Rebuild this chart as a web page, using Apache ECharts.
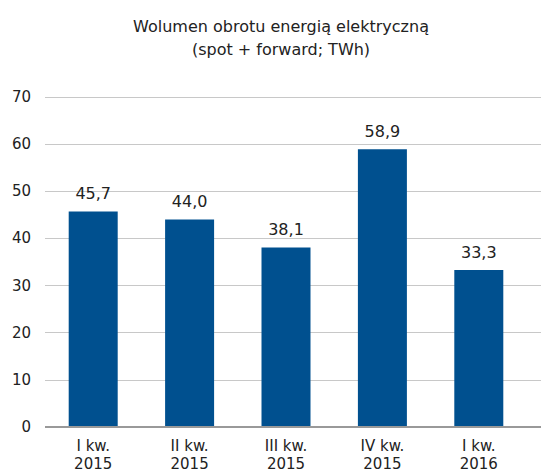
<!DOCTYPE html>
<html>
<head>
<meta charset="utf-8">
<script src="https://cdn.jsdelivr.net/npm/echarts@6/dist/echarts.min.js"></script>
<style>
  html, body { margin: 0; padding: 0; background: #fff; }
  #chart { width: 541px; height: 472px; }
</style>
</head>
<body>
<div id="chart"></div>
<script>
var categories = ["I kw.\n2015", "II kw.\n2015", "III kw.\n2015", "IV kw.\n2015", "I kw.\n2016"];
var volumes = [45.7, 44.0, 38.1, 58.9, 33.3];
var yTicks = [0, 10, 20, 30, 40, 50, 60, 70];

var fontFam = "DejaVu Sans";
// svg renderer: the canvas one ignored DejaVu here
var myChart = echarts.init(document.getElementById("chart"), null, { renderer: "svg" });

var option = {
  animation: false,
  textStyle: { fontFamily: fontFam },
  title: {
    text: "Wolumen obrotu energią elektryczną\n(spot + forward; TWh)",
    left: 276,
    top: 10,
    textAlign: "center",
    textStyle: {
      fontFamily: fontFam,
      fontSize: 16,
      fontWeight: "normal",
      color: "#222",
      lineHeight: 23
    }
  },
  // grid 0 only holds the gridlines (they run to the right edge), grid 1 the bars
  grid: [
    { left: 45, right: 0, top: 97, bottom: 45, outerBoundsMode: "none", containLabel: false },
    { left: 45, right: 14, top: 97, bottom: 45, outerBoundsMode: "none", containLabel: false }
  ],
  xAxis: [
    { gridIndex: 0, type: "value", show: false },
    {
      gridIndex: 1,
      type: "category",
      data: categories,
      axisLine: { show: false },
      axisTick: { show: false },
      axisLabel: {
        fontFamily: fontFam,
        fontSize: 15,
        color: "#222",
        lineHeight: 18,
        margin: 10
      }
    }
  ],
  yAxis: [
    {
      gridIndex: 0,
      type: "value",
      min: yTicks[0],
      max: yTicks[yTicks.length - 1],
      interval: 10,
      axisLine: { show: false },
      axisTick: { show: false },
      axisLabel: {
        fontFamily: fontFam,
        fontSize: 15,
        color: "#222",
        margin: 14
      },
      splitLine: { lineStyle: { color: "#c8c8c8", width: 1 } }
    },
    {
      gridIndex: 1,
      type: "value",
      min: yTicks[0],
      max: yTicks[yTicks.length - 1],
      interval: 10,
      show: false,
      splitLine: { show: false }
    }
  ],
  series: [
    {
      type: "bar",
      xAxisIndex: 1,
      yAxisIndex: 1,
      data: volumes,
      barWidth: 49,
      itemStyle: { color: "#00508f" },
      label: {
        show: true,
        position: "top",
        distance: 10,
        fontFamily: fontFam,
        fontSize: 16,
        color: "#222",
        formatter: function (p) {
          return p.value.toFixed(1).replace(".", ",");
        }
      }
    },
    {
      type: "line",
      xAxisIndex: 0,
      yAxisIndex: 0,
      data: [],
      silent: true,
      markLine: {
        silent: true,
        symbol: "none",
        label: { show: false },
        lineStyle: { color: "#999", width: 2, type: "solid" },
        data: [{ yAxis: 0 }]
      }
    }
  ]
};

myChart.setOption(option);
</script>
</body>
</html>
